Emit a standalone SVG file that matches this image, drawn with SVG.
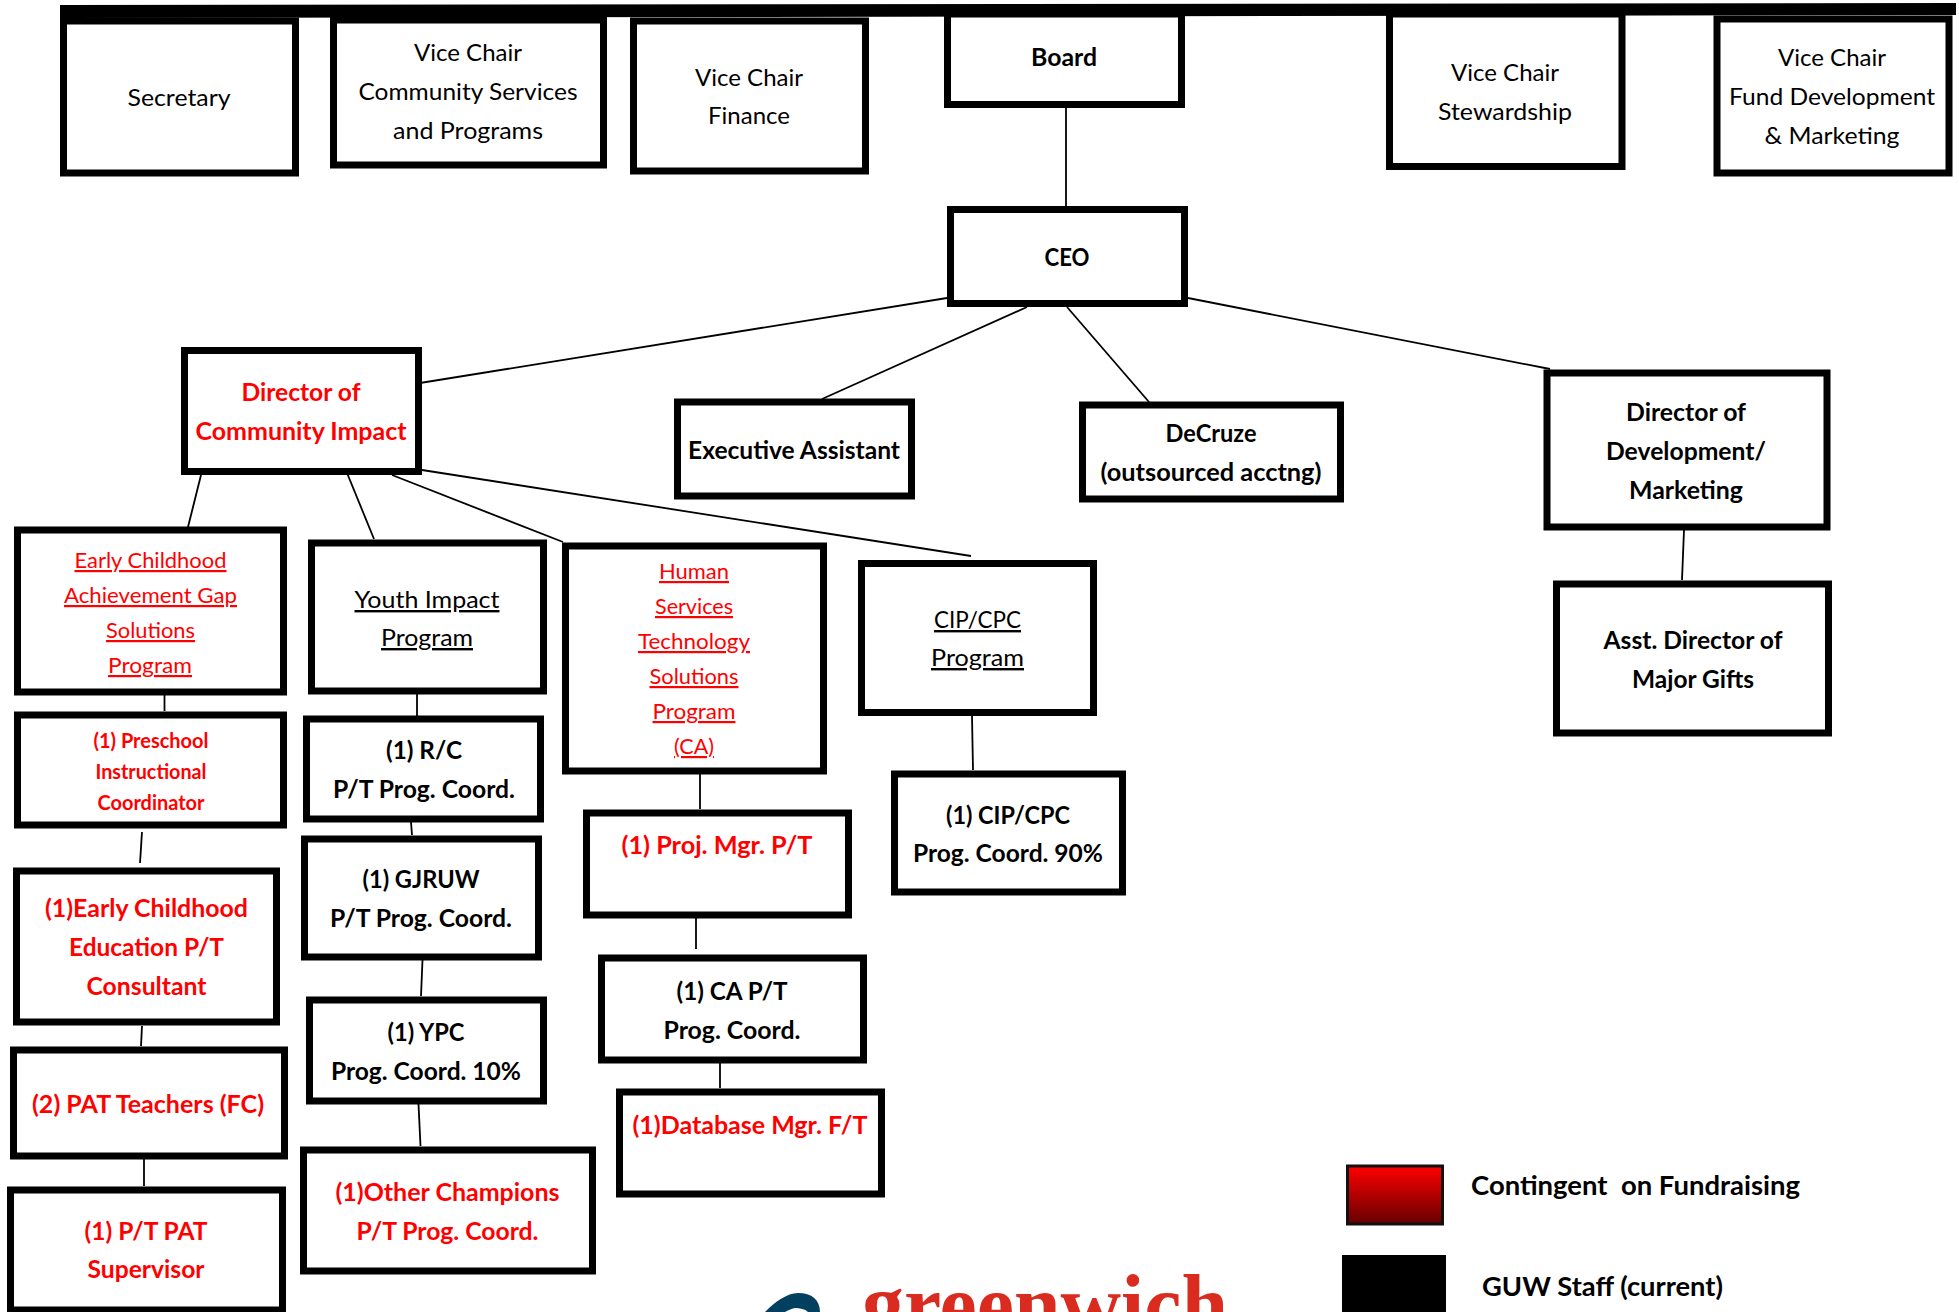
<svg xmlns="http://www.w3.org/2000/svg" width="1959" height="1312" viewBox="0 0 1959 1312">
<style>
.b{fill:#fff;stroke:#000;stroke-width:7}
.c line{stroke:#000;stroke-width:1.8}
text{font-family:Lato,"Liberation Sans",sans-serif;text-anchor:middle;font-size:24px}
.k{font-weight:700;fill:#000;font-size:24.500px}
.r{font-weight:700;fill:#f00;font-size:24.500px}
.s{font-size:20px}
.u{text-decoration:underline}
.ru{fill:#f00;text-decoration:underline;font-size:22px}
.l{text-anchor:start;font-size:26.500px}
.logo{font-family:"Liberation Serif",serif;font-weight:700;font-size:84px;fill:#d92b1f;text-anchor:start}
</style>
<defs><linearGradient id="g" x1="0" y1="0" x2="0" y2="1"><stop offset="0" stop-color="#f00"/><stop offset="1" stop-color="#600"/></linearGradient></defs>
<rect width="1959" height="1312" fill="#fff"/>
<g id="connectors" class="c">
<line x1="1066" y1="108" x2="1066" y2="206"/>
<line x1="947" y1="298" x2="420" y2="383"/>
<line x1="1027" y1="307" x2="822" y2="399"/>
<line x1="1067" y1="307" x2="1149" y2="402"/>
<line x1="1188" y1="298" x2="1550" y2="369"/>
<line x1="201" y1="475" x2="186" y2="535"/>
<line x1="345" y1="468" x2="374" y2="539"/>
<line x1="392" y1="475" x2="563" y2="542"/>
<line x1="422" y1="470" x2="971" y2="556"/>
<line x1="1684" y1="530" x2="1682" y2="580"/>
<line x1="164.500" y1="695" x2="164.500" y2="711"/>
<line x1="142" y1="832" x2="140" y2="863"/>
<line x1="142" y1="1026" x2="141" y2="1046"/>
<line x1="144" y1="1159" x2="144" y2="1186"/>
<line x1="417" y1="694" x2="417" y2="722"/>
<line x1="411" y1="822" x2="412" y2="835"/>
<line x1="422.500" y1="960" x2="421" y2="996"/>
<line x1="418.500" y1="1104" x2="420.500" y2="1146"/>
<line x1="700" y1="774" x2="700" y2="809"/>
<line x1="696" y1="918" x2="696" y2="949"/>
<line x1="720" y1="1055" x2="720" y2="1088"/>
<line x1="972" y1="716" x2="973" y2="770"/>
</g>
<polygon id="top-bar" points="60,5 1956,3 1956,15 60,18" fill="#000"/>
<g id="secretary"><rect class="b" x="63.500" y="21" width="232" height="152"/><text lengthAdjust="spacingAndGlyphs" textLength="103" x="179" y="106">Secretary</text></g>
<g id="vc-community"><rect class="b" x="333.500" y="20" width="270" height="145"/><text lengthAdjust="spacingAndGlyphs" textLength="108" x="468" y="61">Vice Chair</text><text lengthAdjust="spacingAndGlyphs" textLength="219" x="468" y="100">Community Services</text><text lengthAdjust="spacingAndGlyphs" textLength="150" x="468" y="139">and Programs</text></g>
<g id="vc-finance"><rect class="b" x="633.500" y="21" width="232" height="150"/><text lengthAdjust="spacingAndGlyphs" textLength="108" x="749" y="86">Vice Chair</text><text lengthAdjust="spacingAndGlyphs" textLength="82" x="749" y="124">Finance</text></g>
<g id="board"><rect class="b" x="947.500" y="14" width="234" height="90.500"/><text class="k" lengthAdjust="spacingAndGlyphs" textLength="66" x="1064" y="66">Board</text></g>
<g id="ceo"><rect class="b" x="950.500" y="209.500" width="234" height="94"/><text class="k" lengthAdjust="spacingAndGlyphs" textLength="45" x="1067" y="266">CEO</text></g>
<g id="vc-stewardship"><rect class="b" x="1389.500" y="14" width="232.500" height="152.500"/><text lengthAdjust="spacingAndGlyphs" textLength="108" x="1505" y="81">Vice Chair</text><text lengthAdjust="spacingAndGlyphs" textLength="134" x="1505" y="120">Stewardship</text></g>
<g id="vc-fund"><rect class="b" x="1717" y="19" width="232" height="154"/><text lengthAdjust="spacingAndGlyphs" textLength="108" x="1832" y="66">Vice Chair</text><text lengthAdjust="spacingAndGlyphs" textLength="206" x="1832" y="105">Fund Development</text><text lengthAdjust="spacingAndGlyphs" textLength="135" x="1832" y="144">&amp; Marketing</text></g>
<g id="dir-community"><rect class="b" x="184.500" y="350.500" width="234" height="121"/><text class="r" lengthAdjust="spacingAndGlyphs" textLength="119" x="301" y="401">Director of</text><text class="r" lengthAdjust="spacingAndGlyphs" textLength="211" x="301" y="440">Community Impact</text></g>
<g id="exec"><rect class="b" x="677.500" y="402" width="234" height="94"/><text class="k" lengthAdjust="spacingAndGlyphs" textLength="212" x="794" y="459">Executive Assistant</text></g>
<g id="decruze"><rect class="b" x="1082.500" y="405" width="258" height="94"/><text class="k" lengthAdjust="spacingAndGlyphs" textLength="91" x="1211" y="442">DeCruze</text><text class="k" lengthAdjust="spacingAndGlyphs" textLength="221" x="1211" y="481">(outsourced acctng)</text></g>
<g id="dir-dev"><rect class="b" x="1547" y="373" width="280" height="154"/><text class="k" lengthAdjust="spacingAndGlyphs" textLength="120" x="1686" y="421">Director of</text><text class="k" lengthAdjust="spacingAndGlyphs" textLength="160" x="1686" y="460">Development/</text><text class="k" lengthAdjust="spacingAndGlyphs" textLength="114" x="1686" y="499">Marketing</text></g>
<g id="asst"><rect class="b" x="1556.500" y="584" width="272" height="149"/><text class="k" lengthAdjust="spacingAndGlyphs" textLength="179" x="1693" y="649">Asst. Director of</text><text class="k" lengthAdjust="spacingAndGlyphs" textLength="122" x="1693" y="688">Major Gifts</text></g>
<g id="early"><rect class="b" x="17.500" y="530" width="266" height="162"/><text class="ru" lengthAdjust="spacingAndGlyphs" textLength="152" x="150.500" y="568">Early Childhood</text><text class="ru" lengthAdjust="spacingAndGlyphs" textLength="173" x="150.500" y="603">Achievement Gap</text><text class="ru" lengthAdjust="spacingAndGlyphs" textLength="89" x="150.500" y="638">Solutions</text><text class="ru" lengthAdjust="spacingAndGlyphs" textLength="84" x="150" y="673">Program</text></g>
<g id="preschool"><rect class="b" x="17.500" y="715" width="266" height="110"/><text class="r s" lengthAdjust="spacingAndGlyphs" textLength="115" x="151" y="748">(1) Preschool</text><text class="r s" lengthAdjust="spacingAndGlyphs" textLength="111" x="151" y="779">Instructional</text><text class="r s" lengthAdjust="spacingAndGlyphs" textLength="107" x="151" y="810">Coordinator</text></g>
<g id="early-ed"><rect class="b" x="16.500" y="871" width="260" height="151"/><text class="r" lengthAdjust="spacingAndGlyphs" textLength="203" x="146.500" y="917">(1)Early Childhood</text><text class="r" lengthAdjust="spacingAndGlyphs" textLength="155" x="146.500" y="956">Education P/T</text><text class="r" lengthAdjust="spacingAndGlyphs" textLength="120" x="146.500" y="995">Consultant</text></g>
<g id="pat"><rect class="b" x="13.500" y="1050" width="271" height="106"/><text class="r" lengthAdjust="spacingAndGlyphs" textLength="232" x="148" y="1113">(2) PAT Teachers (FC)</text></g>
<g id="pt-pat"><rect class="b" x="10.500" y="1190" width="272" height="120"/><text class="r" lengthAdjust="spacingAndGlyphs" textLength="123" x="146" y="1240">(1) P/T PAT</text><text class="r" lengthAdjust="spacingAndGlyphs" textLength="117" x="146" y="1278">Supervisor</text></g>
<g id="youth"><rect class="b" x="311.500" y="543" width="232" height="148"/><text class="u" lengthAdjust="spacingAndGlyphs" textLength="145" x="427" y="608">Youth Impact</text><text class="u" lengthAdjust="spacingAndGlyphs" textLength="92" x="427" y="646">Program</text></g>
<g id="rc"><rect class="b" x="306.500" y="719" width="234" height="100"/><text class="k" lengthAdjust="spacingAndGlyphs" textLength="76" x="424" y="759">(1) R/C</text><text class="k" lengthAdjust="spacingAndGlyphs" textLength="182" x="424" y="798">P/T Prog. Coord.</text></g>
<g id="gjruw"><rect class="b" x="304.500" y="839" width="234" height="118"/><text class="k" lengthAdjust="spacingAndGlyphs" textLength="117" x="421" y="888">(1) GJRUW</text><text class="k" lengthAdjust="spacingAndGlyphs" textLength="182" x="421" y="927">P/T Prog. Coord.</text></g>
<g id="ypc"><rect class="b" x="309.500" y="1000" width="234" height="101"/><text class="k" lengthAdjust="spacingAndGlyphs" textLength="77" x="426" y="1041">(1) YPC</text><text class="k" lengthAdjust="spacingAndGlyphs" textLength="190" x="426" y="1080">Prog. Coord. 10%</text></g>
<g id="other"><rect class="b" x="303.500" y="1150" width="289" height="121"/><text class="r" lengthAdjust="spacingAndGlyphs" textLength="224" x="447.500" y="1201">(1)Other Champions</text><text class="r" lengthAdjust="spacingAndGlyphs" textLength="182" x="447.500" y="1240">P/T Prog. Coord.</text></g>
<g id="human"><rect class="b" x="565.500" y="546" width="258" height="225"/><text class="ru" lengthAdjust="spacingAndGlyphs" textLength="70" x="694" y="579">Human</text><text class="ru" lengthAdjust="spacingAndGlyphs" textLength="78" x="694" y="614">Services</text><text class="ru" lengthAdjust="spacingAndGlyphs" textLength="112" x="694" y="649">Technology</text><text class="ru" lengthAdjust="spacingAndGlyphs" textLength="89" x="694" y="684">Solutions</text><text class="ru" lengthAdjust="spacingAndGlyphs" textLength="83" x="694" y="719">Program</text><text class="ru" lengthAdjust="spacingAndGlyphs" textLength="40" x="694" y="754">(CA)</text></g>
<g id="cip"><rect class="b" x="861.500" y="563.500" width="232" height="149"/><text class="u" lengthAdjust="spacingAndGlyphs" textLength="87" x="977.500" y="628">CIP/CPC</text><text class="u" lengthAdjust="spacingAndGlyphs" textLength="93" x="977.500" y="666">Program</text></g>
<g id="proj"><rect class="b" x="586.500" y="813" width="262" height="102"/><text class="r" lengthAdjust="spacingAndGlyphs" textLength="191" x="717" y="854">(1) Proj. Mgr. P/T</text></g>
<g id="ca"><rect class="b" x="601.500" y="958" width="262" height="102"/><text class="k" lengthAdjust="spacingAndGlyphs" textLength="111" x="732" y="1000">(1) CA P/T</text><text class="k" lengthAdjust="spacingAndGlyphs" textLength="137" x="732" y="1039">Prog. Coord.</text></g>
<g id="db"><rect class="b" x="619.500" y="1092" width="262" height="102"/><text class="r" lengthAdjust="spacingAndGlyphs" textLength="235" x="750" y="1134">(1)Database Mgr. F/T</text></g>
<g id="cip-coord"><rect class="b" x="894.500" y="774" width="228" height="118"/><text class="k" lengthAdjust="spacingAndGlyphs" textLength="124" x="1008" y="824">(1) CIP/CPC</text><text class="k" lengthAdjust="spacingAndGlyphs" textLength="190" x="1008" y="862">Prog. Coord. 90%</text></g>
<g id="legend"><rect x="1347.500" y="1166" width="95" height="58" fill="url(#g)" stroke="#111" stroke-width="3"/><text class="k l" lengthAdjust="spacingAndGlyphs" textLength="329" x="1471" y="1195" xml:space="preserve">Contingent  on Fundraising</text><rect x="1342" y="1255" width="104" height="57" fill="#000"/><text class="k l" lengthAdjust="spacingAndGlyphs" textLength="241" x="1482" y="1296">GUW Staff (current)</text></g>
<g id="logo"><path d="M765,1312 C775,1302 787,1293 798,1293 C812,1293 820,1300 820,1312 L808,1312 C805,1309 800,1308 795,1308 C791,1309 788,1310 785,1312 Z" fill="#033f5f"/><text class="logo" lengthAdjust="spacingAndGlyphs" textLength="366" x="862" y="1333">greenwich</text></g>
</svg>
